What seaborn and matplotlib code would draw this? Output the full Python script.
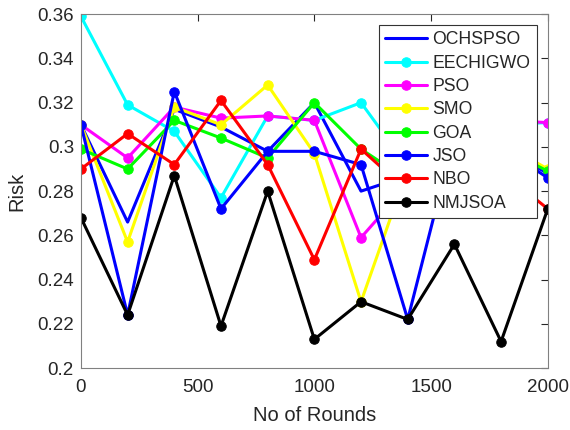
import pandas as pd
import matplotlib
matplotlib.use('Agg')
import matplotlib.pyplot as plt
import seaborn as sns

# data
rounds = [0, 200, 400, 600, 800, 1000, 1200, 1400, 1600, 1800, 2000]
ochspso = [0.310, 0.266, 0.317, 0.309, 0.298, 0.320, 0.280, 0.287, 0.296, 0.300, 0.288]
eechigwo = [0.359, 0.319, 0.307, 0.277, 0.314, 0.312, 0.320, 0.291, 0.302, 0.310, 0.311]
pso = [0.310, 0.295, 0.318, 0.313, 0.314, 0.312, 0.259, 0.283, 0.305, 0.312, 0.311]
smo = [0.310, 0.257, 0.318, 0.310, 0.328, 0.297, 0.230, 0.290, 0.300, 0.302, 0.290]
goa = [0.299, 0.290, 0.312, 0.304, 0.295, 0.320, 0.299, 0.285, 0.295, 0.300, 0.289]
jso = [0.310, 0.224, 0.325, 0.272, 0.298, 0.298, 0.292, 0.222, 0.305, 0.300, 0.286]
nbo = [0.290, 0.306, 0.292, 0.321, 0.292, 0.249, 0.299, 0.280, 0.290, 0.289, 0.272]
nmjsoa = [0.268, 0.224, 0.287, 0.219, 0.280, 0.213, 0.230, 0.222, 0.256, 0.212, 0.272]

series = [
    ('OCHSPSO', ochspso, '#0000ff', None),
    ('EECHIGWO', eechigwo, '#00ffff', 'o'),
    ('PSO', pso, '#ff00ff', 'o'),
    ('SMO', smo, '#ffff00', 'o'),
    ('GOA', goa, '#00ff00', 'o'),
    ('JSO', jso, '#0000ff', 'o'),
    ('NBO', nbo, '#ff0000', 'o'),
    ('NMJSOA', nmjsoa, '#000000', 'o'),
]

sns.set_style('white')
plt.rcParams['font.family'] = ['Liberation Sans', 'DejaVu Sans']

fig = plt.figure(figsize=(5.7, 4.3), dpi=100)
ax = fig.add_axes([0.142, 0.144, 0.819, 0.823])

for name, vals, col, mk in series:
    df = pd.DataFrame({'rounds': rounds, 'risk': vals})
    sns.lineplot(data=df, x='rounds', y='risk', color=col, marker=mk,
                 markersize=6.8, markeredgecolor=col, linewidth=2.2,
                 label=name, ax=ax)

ax.set_xlim(0, 2000)
ax.set_ylim(0.2, 0.36)
ax.set_xticks([0, 500, 1000, 1500, 2000])
ax.set_yticks([0.2, 0.22, 0.24, 0.26, 0.28, 0.3, 0.32, 0.34, 0.36])
ax.set_yticklabels(['0.2', '0.22', '0.24', '0.26', '0.28', '0.3', '0.32', '0.34', '0.36'])
ax.set_xlabel('No of Rounds', fontsize=14.5, color='#262626', labelpad=7)
ax.set_ylabel('Risk', fontsize=14.5, color='#262626', labelpad=8)
ax.tick_params(direction='in', length=5, width=0.8, colors='#262626',
               labelsize=13.5, top=True, right=True, labeltop=False, labelright=False)
ax.tick_params(axis='x', pad=8)
ax.tick_params(axis='y', pad=5)
for s in ax.spines.values():
    s.set_color('#808080')
    s.set_linewidth(0.8)

leg = ax.legend(loc='upper right', bbox_to_anchor=(0.976, 0.969), fontsize=12.7,
                handlelength=2.4, frameon=True, fancybox=False,
                borderpad=0.35, labelspacing=0.36, handletextpad=0.3,
                borderaxespad=0)
leg.get_frame().set_edgecolor('#333333')
leg.get_frame().set_linewidth(0.8)
leg.get_frame().set_alpha(1)

plt.savefig('out.png', dpi=100)
